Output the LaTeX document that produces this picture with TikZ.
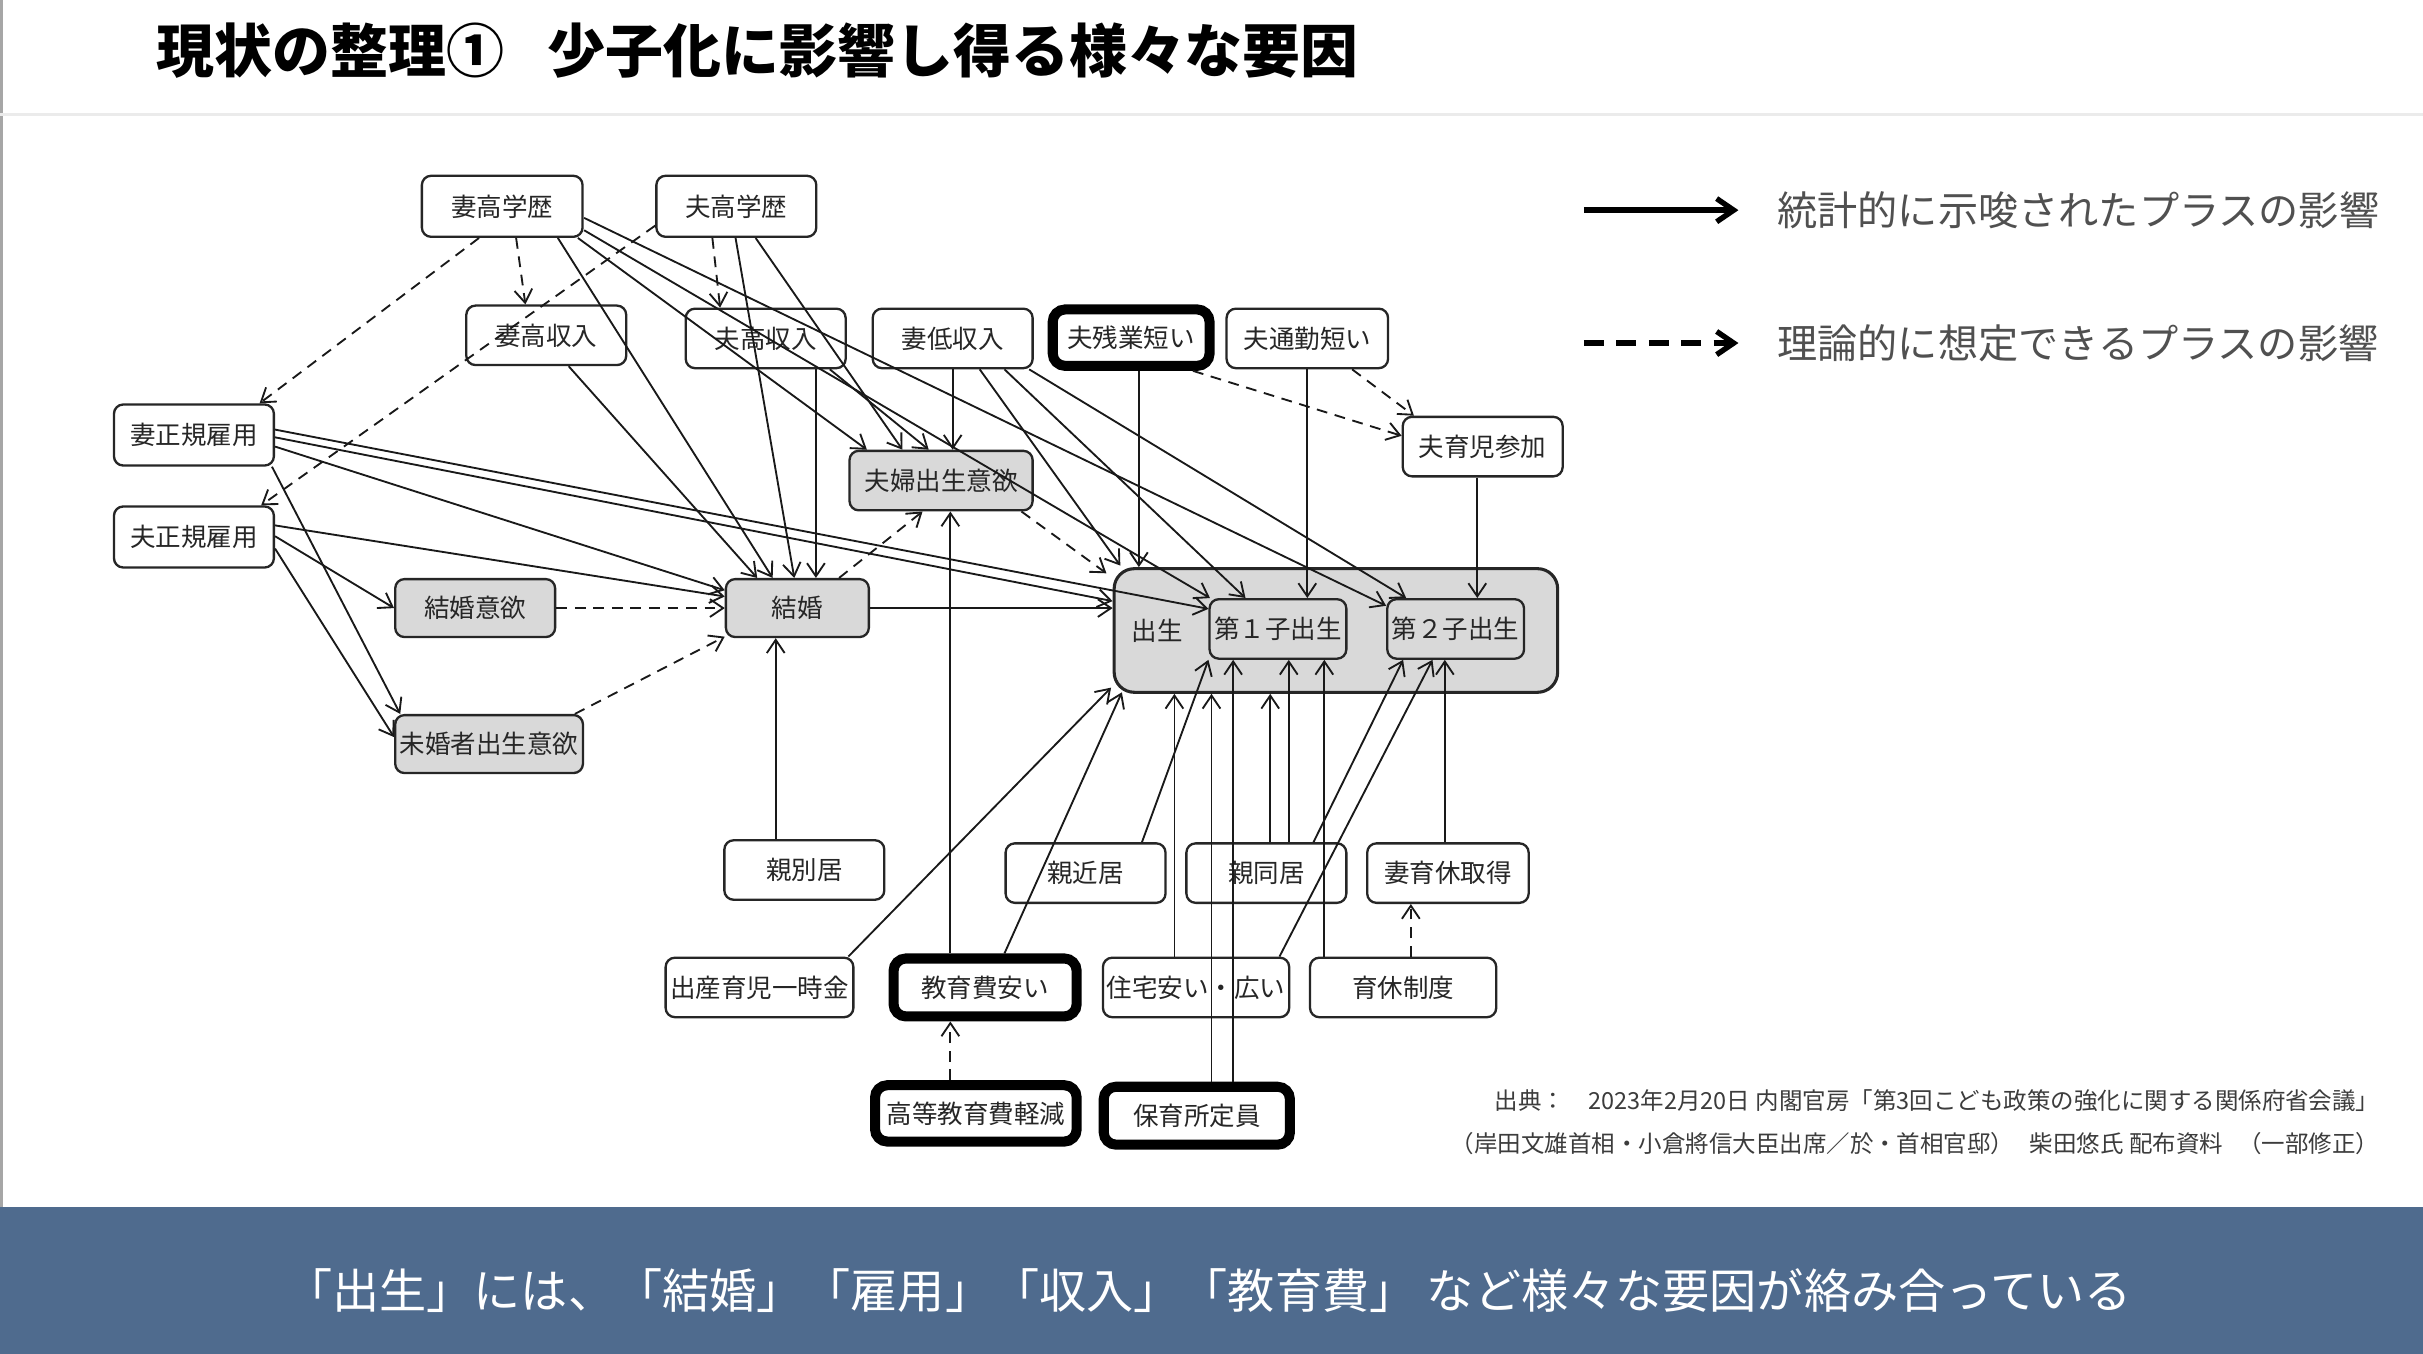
\documentclass[tikz,border=0pt]{standalone}
\usepackage{fontspec}
\setmainfont{Noto Sans CJK JP}
\usetikzlibrary{arrows.meta,calc}
\definecolor{band}{RGB}{79,107,142}
\definecolor{legtxt}{RGB}{80,80,80}
\definecolor{srctxt}{RGB}{60,60,60}
\begin{document}
\begin{tikzpicture}[x=1pt,y=-1pt,
  box/.style={draw=black!85, line width=1.5pt, rounded corners=6pt, fill=white, text=black!85,
    font=\fontsize{16.5}{18}\selectfont, inner sep=0pt, minimum height=39pt},
  gbox/.style={box, fill=black!15},
  tbox/.style={box, draw=black, line width=6.5pt, rounded corners=8pt},
  ar/.style={line width=1.2pt, draw=black!90, -{Straight Barb[length=8.5pt,width=11.5pt]}},
  da/.style={ar, dash pattern=on 7pt off 5pt},
  legsolid/.style={line width=3.5pt, draw=black, -{Straight Barb[length=11pt,width=15pt]}},
  legdash/.style={legsolid, dash pattern=on 13pt off 8pt},
  legtext/.style={anchor=west, text=legtxt, font=\fontsize{26}{30}\selectfont, inner sep=0pt},
  srcstyle/.style={anchor=east, text=srctxt, font=\fontsize{15.2}{17}\selectfont, inner sep=0pt}
]
\useasboundingbox (0,0) rectangle (1568,876);
\fill[white] (0,0) rectangle (1568,876);
% frame lines
\draw[black!35, line width=1.5pt] (1,0) -- (1,781);
\draw[black!8, line width=2pt] (0,74) -- (1568,74);
% title
\node[anchor=west, inner sep=0pt, font=\fontsize{37.5}{40}\selectfont\bfseries] (title) at (101,33) {現状の整理①\hspace{0.75em}少子化に影響し得る様々な要因};

% legend
\coordinate (l1a) at (1025,136); \coordinate (l1b) at (1125,136);
\coordinate (l2a) at (1025,222); \coordinate (l2b) at (1125,222);
\draw[legsolid] (l1a) -- (l1b);
\draw[legdash] (l2a) -- (l2b);
\node[legtext] (leg1) at (1150,136) {統計的に示唆されたプラスの影響};
\node[legtext] (leg2) at (1150,222) {理論的に想定できるプラスの影響};

% big birth box
\node[draw=black!85, line width=2pt, fill=black!15, rounded corners=13pt, minimum width=287pt, minimum height=80pt, inner sep=0pt] (birth) at (864.5,408) {};
\node[text=black!85, font=\fontsize{16.5}{18}\selectfont, inner sep=0pt] (birthL) at (749,408) {出生};

% nodes
\node[box, minimum width=104pt, minimum height=39.5pt] (wHE) at (325,133.5) {妻高学歴};
\node[box, minimum width=103.5pt, minimum height=39.5pt] (hHE) at (476.5,133.5) {夫高学歴};
\node[box, minimum width=103.5pt, minimum height=38.5pt] (wHI) at (353.5,217) {妻高収入};
\node[box, minimum width=103.5pt, minimum height=38.5pt] (hHI) at (495.5,219) {夫高収入};
\node[box, minimum width=103.5pt, minimum height=38.5pt] (wLI) at (616.5,219) {妻低収入};
\node[tbox, minimum width=101.5pt, minimum height=36.5pt] (hOT) at (732,218.5) {夫残業短い};
\node[box, minimum width=104.5pt, minimum height=38.5pt] (hCO) at (846,219) {夫通勤短い};
\node[box, minimum width=103.5pt, minimum height=38.5pt] (hCC) at (959.5,289) {夫育児参加};
\node[box, minimum width=103.5pt, minimum height=39.5pt] (wRE) at (125.5,281.5) {妻正規雇用};
\node[box, minimum width=103.5pt, minimum height=39.5pt] (hRE) at (125.5,347.5) {夫正規雇用};
\node[gbox, minimum width=118.5pt, minimum height=38.5pt] (cDes) at (609,311) {夫婦出生意欲};
\node[gbox, minimum width=103.5pt, minimum height=37.5pt] (mDes) at (307.5,393.5) {結婚意欲};
\node[gbox, minimum width=92.5pt, minimum height=37.5pt] (mar) at (516,393.5) {結婚};
\node[gbox, minimum width=121.5pt, minimum height=37.5pt] (uDes) at (316.5,481.5) {未婚者出生意欲};
\node[gbox, minimum width=88.5pt, minimum height=38.5pt] (b1) at (827,407) {第１子出生};
\node[gbox, minimum width=88.5pt, minimum height=38.5pt] (b2) at (942,407) {第２子出生};
\node[box, minimum width=103.5pt, minimum height=38.5pt] (pSep) at (520.5,563) {親別居};
\node[box, minimum width=103.5pt, minimum height=38.5pt] (pNear) at (702.5,565) {親近居};
\node[box, minimum width=103.5pt, minimum height=38.5pt] (pCo) at (819.5,565) {親同居};
\node[box, minimum width=104.5pt, minimum height=38.5pt] (wLeave) at (937,565) {妻育休取得};
\node[box, minimum width=121.5pt, minimum height=38.5pt] (lump) at (491.5,639) {出産育児一時金};
\node[tbox, minimum width=118.5pt, minimum height=37.5pt] (edu) at (637.5,639) {教育費安い};
\node[box, minimum width=120.5pt, minimum height=38.5pt] (house) at (774,639) {住宅安い・広い};
\node[box, minimum width=120.5pt, minimum height=38.5pt] (leaveSys) at (908,639) {育休制度};
\node[tbox, minimum width=130.5pt, minimum height=36.5pt] (hEdu) at (631.5,720.5) {高等教育費軽減};
\node[tbox, minimum width=120.5pt, minimum height=37.5pt] (nurs) at (774.5,722) {保育所定員};

% dashed connectors
\draw[da] ($(wHE.center)+(-15,20.5)$) -- ($(wRE.center)+(42.5,-20.5)$);
\draw[da] ($(wHE.center)+(9,20.5)$) -- ($(wHI.center)+(-13.5,-20)$);
\draw[da] ($(hHE.center)+(-52.5,12.5)$) -- ($(hRE.center)+(43.5,-20.5)$);
\draw[da] ($(hHE.center)+(-15.5,20.5)$) -- ($(hHI.center)+(-29.5,-20)$);
\draw[da] (mDes.east) -- (mar.west);
\draw[da] ($(uDes.center)+(55.5,-19.5)$) -- ($(mar.center)+(-47,18.5)$);
\draw[da] ($(mar.center)+(27,-19.5)$) -- ($(cDes.center)+(-12,20)$);
\draw[da] ($(cDes.center)+(52,20)$) -- ($(birth.center)+(-148.5,-37)$);
\draw[da] ($(hOT.center)+(40,21.5)$) -- ($(hCC.center)+(-52.5,-7)$);
\draw[da] ($(hCO.center)+(29,20)$) -- ($(hCC.center)+(-44.5,-20)$);
\draw[da] ($(leaveSys.center)+(5,-20)$) -- ($(wLeave.center)+(-24,20)$);
\draw[da] ($(hEdu.center)+(-16.5,-21.5)$) -- ($(edu.center)+(-22.5,22)$);

% solid connectors
\draw[ar] ($(wHE.center)+(36,20.5)$) -- ($(mar.center)+(-16,-19.5)$);
\draw[ar] ($(wHI.center)+(14.5,20)$) -- ($(mar.center)+(-26,-19.5)$);
\draw[ar] ($(hHE.center)+(-0.5,20.5)$) -- ($(mar.center)+(-2,-19.5)$);
\draw[ar] ($(hHI.center)+(32.5,20)$) -- ($(mar.center)+(12,-19.5)$);
\draw[ar] ($(wHE.center)+(49,20.5)$) -- ($(cDes.center)+(-48,-20)$);
\draw[ar] ($(wHE.center)+(53,15.5)$) -- ($(b1.center)+(-44,-20)$);
\draw[ar] ($(wHE.center)+(53,7.5)$) -- ($(b2.center)+(-45,-15)$);
\draw[ar] ($(hHE.center)+(12.5,20.5)$) -- ($(cDes.center)+(-25,-20)$);
\draw[ar] ($(hHI.center)+(41.5,20)$) -- ($(cDes.center)+(-8,-20)$);
\draw[ar] ($(wLI.center)+(0,20)$) -- ($(cDes.center)+(7.5,-20)$);
\draw[ar] ($(wLI.center)+(17.5,20)$) -- ($(birth.center)+(-139.5,-42)$);
\draw[ar] ($(wLI.center)+(33.5,20)$) -- ($(b1.center)+(-21,-20)$);
\draw[ar] ($(wLI.center)+(49.5,20)$) -- ($(b2.center)+(-32,-20)$);
\draw[ar] ($(hOT.center)+(5,21.5)$) -- ($(birth.center)+(-127.5,-41)$);
\draw[ar] ($(hCO.center)+(0,20)$) -- ($(b1.center)+(19,-20)$);
\draw[ar] ($(hCC.center)+(-3.5,20)$) -- ($(b2.center)+(14,-20)$);
\draw[ar] ($(wRE.center)+(52.5,-3.5)$) -- ($(b1.center)+(-45,-13)$);
\draw[ar] ($(wRE.center)+(52.5,1.5)$) -- ($(birth.center)+(-144.5,-19)$);
\draw[ar] ($(wRE.center)+(52.5,7.5)$) -- ($(mar.center)+(-47,-11.5)$);
\draw[ar] ($(wRE.center)+(50.5,20.5)$) -- ($(uDes.center)+(-57.5,-19.5)$);
\draw[ar] ($(hRE.center)+(52.5,-7.5)$) -- ($(mar.center)+(-47,-7.5)$);
\draw[ar] ($(hRE.center)+(52.5,-0.5)$) -- (mDes.west);
\draw[ar] ($(hRE.center)+(52.5,7.5)$) -- ($(uDes.center)+(-61.5,-4.5)$);
\draw[ar] (mar.east) -- ($(birth.center)+(-144.5,-14.5)$);
\draw[ar] ($(pSep.center)+(-18.5,-20)$) -- ($(mar.center)+(-14,19.5)$);
\draw[ar] ($(edu.center)+(-22.5,-22)$) -- ($(cDes.center)+(6,20)$);
\draw[ar] ($(lump.center)+(57.5,-20)$) -- ($(birth.center)+(-145.5,37)$);
\draw[ar] ($(edu.center)+(12.5,-22)$) -- ($(birth.center)+(-138.5,40)$);
\draw[ar] ($(house.center)+(-14,-20)$) -- ($(birth.center)+(-104.5,41)$);
\draw[ar] ($(nurs.center)+(9.5,-22)$) -- ($(birth.center)+(-80.5,41)$);
\draw[ar] ($(nurs.center)+(23.5,-22)$) -- ($(b1.center)+(-29,20)$);
\draw[ar] ($(pNear.center)+(36.5,-20)$) -- ($(b1.center)+(-45,20)$);
\draw[ar] ($(pCo.center)+(2.5,-20)$) -- ($(birth.center)+(-42.5,41)$);
\draw[ar] ($(pCo.center)+(14.5,-20)$) -- ($(b1.center)+(7,20)$);
\draw[ar] ($(leaveSys.center)+(-51,-20)$) -- ($(b1.center)+(30,20)$);
\draw[ar] ($(pCo.center)+(30.5,-20)$) -- ($(b2.center)+(-34,20)$);
\draw[ar] ($(house.center)+(54,-20)$) -- ($(b2.center)+(-15,20)$);
\draw[ar] ($(wLeave.center)+(-2,-20)$) -- ($(b2.center)+(-7,20)$);

% source
\node[srcstyle] (src1) at (1540,712) {出典：　2023年2月20日 内閣官房「第3回こども政策の強化に関する関係府省会議」};
\node[srcstyle] (src2) at (1540,740) {（岸田文雄首相・小倉將信大臣出席／於・首相官邸）\hspace{10pt}柴田悠氏 配布資料\hspace{10pt}（一部修正）};

% bottom band
\fill[band] (0,781) rectangle (1568,876);
\node[text=white, inner sep=0pt, font=\fontsize{30.5}{34}\selectfont] (msg) at (782,835) {「出生」には、「結婚」「雇用」「収入」「教育費」 など様々な要因が絡み合っている};
\end{tikzpicture}
\end{document}
